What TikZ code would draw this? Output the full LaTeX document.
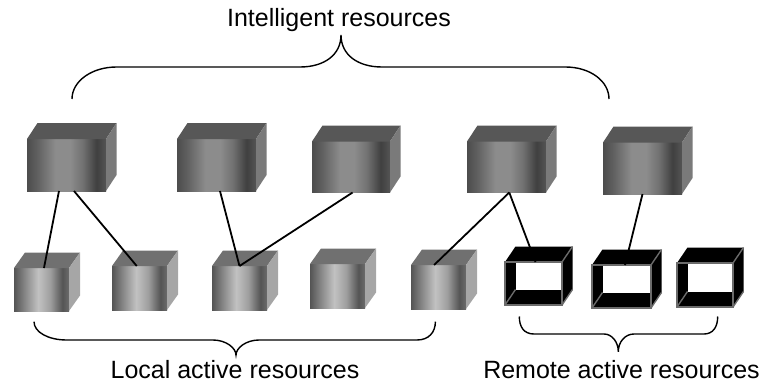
\documentclass[tikz,border=0pt]{standalone}
\usepackage{fontspec}
\setmainfont{Liberation Sans}
\usetikzlibrary{calc}

% front-face gradients of the solid cubes (path spans 25bp..75bp)
\pgfdeclarehorizontalshading{bigfront}{100bp}{rgb(0bp)=(.30,.30,.30); rgb(25bp)=(.30,.30,.30); rgb(31bp)=(.37,.37,.37); rgb(43bp)=(.55,.55,.55); rgb(52bp)=(.55,.55,.55); rgb(60bp)=(.45,.45,.45); rgb(69bp)=(.25,.25,.25); rgb(75bp)=(.33,.33,.33); rgb(100bp)=(.33,.33,.33)}
\pgfdeclarehorizontalshading{smallfront}{100bp}{rgb(0bp)=(.33,.33,.33); rgb(25bp)=(.33,.33,.33); rgb(36bp)=(.55,.55,.55); rgb(47bp)=(.76,.76,.76); rgb(58bp)=(.62,.62,.62); rgb(69bp)=(.33,.33,.33); rgb(75bp)=(.42,.42,.42); rgb(100bp)=(.42,.42,.42)}

\tikzset{
  facebase/.style={draw=none, inner sep=0pt, outer sep=0pt, anchor=north west},
  bigface/.style={facebase, shade, shading=bigfront},
  smallface/.style={facebase, shade, shading=smallfront},
  framefaceA/.style={facebase, fill=black},
  bigtop/.style={fill={rgb,1:red,.34;green,.34;blue,.34}},
  bigside/.style={fill={rgb,1:red,.48;green,.48;blue,.48}},
  smalltop/.style={fill={rgb,1:red,.44;green,.44;blue,.44}},
  smallside/.style={fill={rgb,1:red,.65;green,.65;blue,.65}},
  rim/.style={draw={rgb,1:red,.42;green,.42;blue,.42}, line width=1.4pt},
  link/.style={draw=black, line width=1.8pt},
  brace/.style={draw=black, line width=1.4pt},
  caption/.style={anchor=base, inner sep=0pt, font=\fontsize{25}{30}\selectfont},
}

% solid cube: name, x, y, width, height, kind (big/small), depth dx, depth dy
\newcommand\solidcube[8]{%
  \node[#6face, minimum width=#4, minimum height=#5] (#1) at (#2,#3) {};
  \fill[#6top] (#1.north west) -- ++(#7,#8) -- ++(#4,0) -- (#1.north east) -- cycle;
  \fill[#6side] (#1.north east) -- ++(#7,#8) -- ++(0,#5) -- (#1.south east) -- cycle;
}

% hollow cube (open frame): name, x, y, width, height, depth dx, depth dy
\newcommand\hollowcube[7]{%
  \node[framefaceA, minimum width=#4, minimum height=#5] (#1) at (#2,#3) {};
  \fill[black] (#1.north west) -- ++(#6,#7) -- ++(#4,0) -- ++(0,#5) -- ($(#1.south east)$) -- (#1.south west) -- cycle;
  \fill[white] ($(#1.north west)+(#6,0)$) rectangle ($(#1.south east)+(0,#7)$);
  \draw[rim] (#1.south west) -- ++(#6,#7);
  \draw[rim] (#1.north east) -- ++(#6,#7);
  \draw[rim] (#1.south east) -- ++(#6,#7);
  \draw[rim] (#1.north west) rectangle (#1.south east);
}

\begin{document}
\begin{tikzpicture}[x=1pt, y=-1pt]
\useasboundingbox (0,0) rectangle (761,383);

% intelligent resources (upper row)
\solidcube{u1}{27}{139}{79}{52}{big}{10.5}{-16}
\solidcube{u2}{177}{139}{79}{52}{big}{10.5}{-16}
\solidcube{u3}{312}{141.5}{78}{51}{big}{10.5}{-16}
\solidcube{u4}{467}{141.5}{79}{51}{big}{10.5}{-16}
\solidcube{u5}{603}{142.5}{79}{51.5}{big}{10.5}{-16}

% local active resources
\solidcube{l1}{14}{268}{55}{43}{small}{11}{-15.5}
\solidcube{l2}{112}{266}{55}{44}{small}{11}{-15.5}
\solidcube{l3}{212}{266}{55}{44}{small}{11}{-15.5}
\solidcube{l4}{310}{264}{55}{44}{small}{11}{-15.5}
\solidcube{l5}{411}{265}{55}{44}{small}{11}{-15.5}

% remote active resources
\hollowcube{r1}{505}{262}{57}{43}{10.5}{-15.5}
\hollowcube{r2}{592}{265}{59}{43}{10.5}{-15.5}
\hollowcube{r3}{677}{263}{56}{44}{10.5}{-15.5}

% links between the rows
\draw[link] ($(u1.south west)!0.405!(u1.south east)$) -- ($(l1.north west)!0.545!(l1.north east)$);
\draw[link] ($(u1.south west)!0.595!(u1.south east)$) -- ($(l2.north west)!0.45!(l2.north east)$);
\draw[link] ($(u2.south west)!0.544!(u2.south east)$) -- ($(l3.north west)!0.5!(l3.north east)$);
\draw[link] ($(u3.south west)!0.52!(u3.south east)$) -- ($(l3.north west)!0.5!(l3.north east)$);
\draw[link] ($(u4.south west)!0.535!(u4.south east)$) -- ($(l5.north west)!0.42!(l5.north east)$);
\draw[link] ($(u4.south west)!0.535!(u4.south east)$) -- ($(r1.north west)!0.535!(r1.north east)$);
\draw[link] ($(u5.south west)!0.5!(u5.south east)$) -- ($(r2.north west)!0.56!(r2.north east)$);

% braces
\draw[brace] (72,99) .. controls (72,81) and (92,67) .. (116.5,67) -- (300,67)
  .. controls (324,67) and (341,55) .. (341,35)
  .. controls (341,55) and (358,67) .. (382,67) -- (565.5,67)
  .. controls (590,67) and (609,81) .. (609,99);
\draw[brace] (34,321.7) .. controls (34,332) and (48,340) .. (66.7,340) -- (213,340)
  .. controls (226,340) and (236,348) .. (236,355)
  .. controls (236,348) and (246,340) .. (259,340) -- (417,340)
  .. controls (429,340) and (435.4,332) .. (435.4,321.7);
\draw[brace] (519.3,316.5) .. controls (519.3,327) and (524,334) .. (534,334) -- (604,334)
  .. controls (612,334) and (618.3,342) .. (618.3,351.7)
  .. controls (618.3,342) and (625,334) .. (634,334) -- (704,334)
  .. controls (713,334) and (717.7,327) .. (717.7,316.5);

% captions
\node[caption] (tIntel) at (339,26.7) {Intelligent resources};
\node[caption] (tLocal) at (235,378) {Local active resources};
\node[caption] (tRemote) at (621.5,378) {Remote active resources};
\end{tikzpicture}
\end{document}
